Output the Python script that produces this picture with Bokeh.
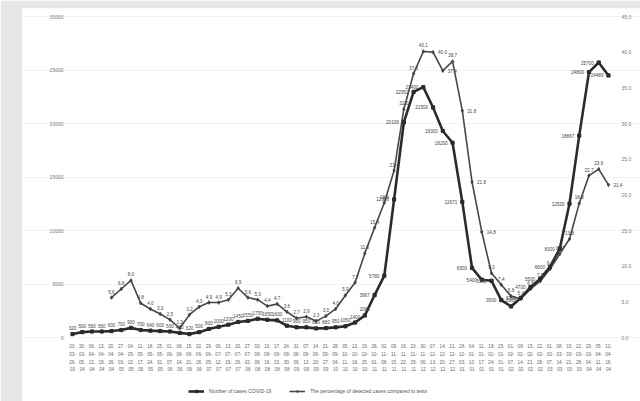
from bokeh.plotting import figure
from bokeh.models import ColumnDataSource, Range1d, FixedTicker, Legend, LegendItem
from bokeh.core.properties import value
from bokeh.embed import file_html
from bokeh.resources import INLINE

weeks = ["23.03-29.03", "30.03-05.04", "06.04-12.04", "13.04-19.04", "20.04-26.04",
         "27.04-03.05", "04.05-10.05", "11.05-17.05", "18.05-24.05", "25.05-31.05",
         "01.06-07.06", "08.06-14.06", "15.06-21.06", "22.06-28.06", "29.06-05.07",
         "06.07-12.07", "13.07-19.07", "20.07-26.07", "27.07-02.08", "03.08-09.08",
         "10.08-16.08", "17.08-23.08", "24.08-30.08", "31.08-06.09", "07.09-13.09",
         "14.09-20.09", "21.09-27.09", "28.09-04.10", "05.10-11.10", "12.10-18.10",
         "19.10-25.10", "26.10-01.11", "02.11-08.11", "09.11-15.11", "16.11-22.11",
         "23.11-29.11", "30.11-06.12", "07.12-13.12", "14.12-20.12", "21.12-27.12",
         "28.12-03.01", "04.01-10.01", "11.01-17.01", "18.01-24.01", "25.01-31.01",
         "01.02-07.02", "08.02-14.02", "15.02-21.02", "22.02-28.02", "01.03-07.03",
         "08.03-14.03", "15.03-21.03", "22.03-28.03", "29.03-04.04", "05.04-11.04",
         "12.04-18.04"]

cases = [320, 500, 560, 560, 600, 700, 900, 700, 640, 600,
         560, 430, 320, 500, 800, 1000, 1200, 1450, 1550, 1750,
         1650, 1600, 1100, 950, 950, 850, 880, 950, 1050, 1400,
         2061, 3967, 5780, 12900, 20108, 22952, 23400, 21500, 19300, 18200,
         12671, 6500, 5400, 5300, 3500, 2900, 3700, 4700, 5500, 6600,
         8300, 12500, 18867, 24800, 25700, 24489]

percent = [None, None, None, None, 5.6, 6.8, 8.0, 4.8, 4.0, 3.3,
           2.5, 1.3, 3.2, 4.3, 4.9, 4.9, 5.3, 6.9, 5.6, 5.3,
           4.4, 4.7, 3.6, 2.7, 2.9, 2.3, 3.0, 4.0, 5.9, 7.7,
           11.8, 15.4, 18.9, 23.4, 32.0, 37.0, 40.1, 40.0, 37.4, 38.7,
           31.8, 21.8, 14.8, 9.0, 7.4, 5.8, 5.4, 6.8, 7.9, 9.6,
           11.7, 13.8, 18.8, 22.7, 23.6, 21.4]

left_ticks = [0, 5000, 10000, 15000, 20000, 25000, 30000]
right_ticks = [0, 5, 10, 15, 20, 25, 30, 35, 40, 45]

legend_labels = ["Number of cases COVID-19",
                 "The percentage of detected cases compared to tests"]

FONT = "Liberation Sans"
idx = list(range(len(weeks)))

# the frame is the whole white "card"; pixel scale: 9.745 px per week, 321 px per 30000 cases
W, H = 640, 401
LEFT, TOP = 22, 8          # card offset (grey shadow strips)
PX_X = 9.745
PX_Y = 321 / 30000
PX_R = 321 / 45
X_FIRST, Y_ZERO, Y_TOP = 72, 337, 16   # pixel positions of first week, zero line, top tick
x0 = -(X_FIRST - LEFT) / PX_X
x1 = (len(weeks) - 1) + (W - (X_FIRST + (len(weeks) - 1) * PX_X)) / PX_X
yb, yt = -(H - Y_ZERO) / PX_Y, 30000 + (Y_TOP - TOP) / PX_Y
rb, rt = -(H - Y_ZERO) / PX_R, 45 + (Y_TOP - TOP) / PX_R

p = figure(width=W, height=H, x_range=Range1d(x0, x1), y_range=Range1d(yb, yt),
           output_backend="svg", toolbar_location=None,
           min_border_left=LEFT, min_border_right=0, min_border_top=TOP, min_border_bottom=0)
p.extra_y_ranges = {"pct": Range1d(rb, rt)}
p.outline_line_color = None
p.background_fill_color = "white"
p.border_fill_color = "#e6e6e6"
p.xaxis.visible = False
p.yaxis.visible = False
p.xgrid.grid_line_color = None
p.ygrid.ticker = FixedTicker(ticks=left_ticks)
p.ygrid.grid_line_color = "#efefef"
p.ygrid.grid_line_width = 0.8

def txt(xs, ys, texts, align, baseline, xo, yo, size="5px", color="#555555", rng=None):
    s = ColumnDataSource(dict(x=xs, y=ys, t=texts))
    kw = dict(y_range_name=rng) if rng else {}
    p.text("x", "y", text="t", source=s, text_font=value(FONT), text_font_size=size,
           text_color=color, text_align=align, text_baseline=baseline,
           x_offset=xo, y_offset=yo, **kw)

# left / right axis tick labels
txt([x0] * len(left_ticks), left_ticks, [str(t) for t in left_ticks],
    "right", "middle", 41, 0, color="#7a7a7a")
txt([x1] * len(right_ticks), right_ticks, [f"{t:.1f}".replace(".", ",") for t in right_ticks],
    "left", "middle", -19, 0, color="#7a7a7a", rng="pct")

# category labels (wrapped in four short rows like the original)
rows = [[w[:3] for w in weeks], [w[3:6] for w in weeks], [w[6:9] for w in weeks], [w[9:] for w in weeks]]
for r, off in zip(rows, [8, 16, 24, 31]):
    txt(idx, [0] * len(idx), r, "center", "middle", 0, off, size="4.6px", color="#666666")

# series
pct_x = [i for i in idx if percent[i] is not None]
pct_y = [percent[i] for i in pct_x]
src_c = ColumnDataSource(dict(x=idx, y=cases))
src_p = ColumnDataSource(dict(x=pct_x, y=pct_y))

r_pl = p.line("x", "y", source=src_p, y_range_name="pct", line_color="#474747", line_width=1.6)
r_pm = p.scatter("x", "y", source=src_p, y_range_name="pct", marker="diamond", size=3.5,
                 fill_color="#474747", line_color="#474747")
r_cl = p.line("x", "y", source=src_c, line_color="#2b2b2b", line_width=2.6)
r_cm = p.scatter("x", "y", source=src_c, marker="square", size=3.2,
                 fill_color="#2b2b2b", line_color="#2b2b2b")

# data labels
c_above = [i for i in idx if cases[i] < 3000]
c_left = [i for i in idx if cases[i] >= 3000]
txt(c_above, [cases[i] for i in c_above], [str(cases[i]) for i in c_above],
    "center", "bottom", 0, -4, size="4.6px", color="#444444")
txt(c_left, [cases[i] for i in c_left], [str(cases[i]) for i in c_left],
    "right", "middle", -5, 0, size="4.6px", color="#444444")

def fmt(v):
    return f"{v:.1f}".replace(".", ",")

p_right = [i for i in pct_x if i > 0 and percent[i - 1] is not None
           and percent[i] < percent[i - 1] and percent[i] > 10]
p_above = [i for i in pct_x if i not in p_right]
txt(p_above, [percent[i] for i in p_above], [fmt(percent[i]) for i in p_above],
    "center", "bottom", 0, -4, size="4.6px", color="#444444", rng="pct")
txt(p_right, [percent[i] for i in p_right], [fmt(percent[i]) for i in p_right],
    "left", "middle", 5, 0, size="4.6px", color="#444444", rng="pct")

legend = Legend(items=[LegendItem(label=legend_labels[0], renderers=[r_cl, r_cm]),
                       LegendItem(label=legend_labels[1], renderers=[r_pl, r_pm])],
                orientation="horizontal", location=(166, 7),
                label_text_font_size="5px", label_text_font=FONT, label_text_color="#555555",
                glyph_width=16, glyph_height=6, label_height=6, spacing=18, padding=2, margin=0,
                border_line_color=None, background_fill_alpha=0)
p.add_layout(legend)

open("out.html", "w").write(file_html(p, INLINE))
